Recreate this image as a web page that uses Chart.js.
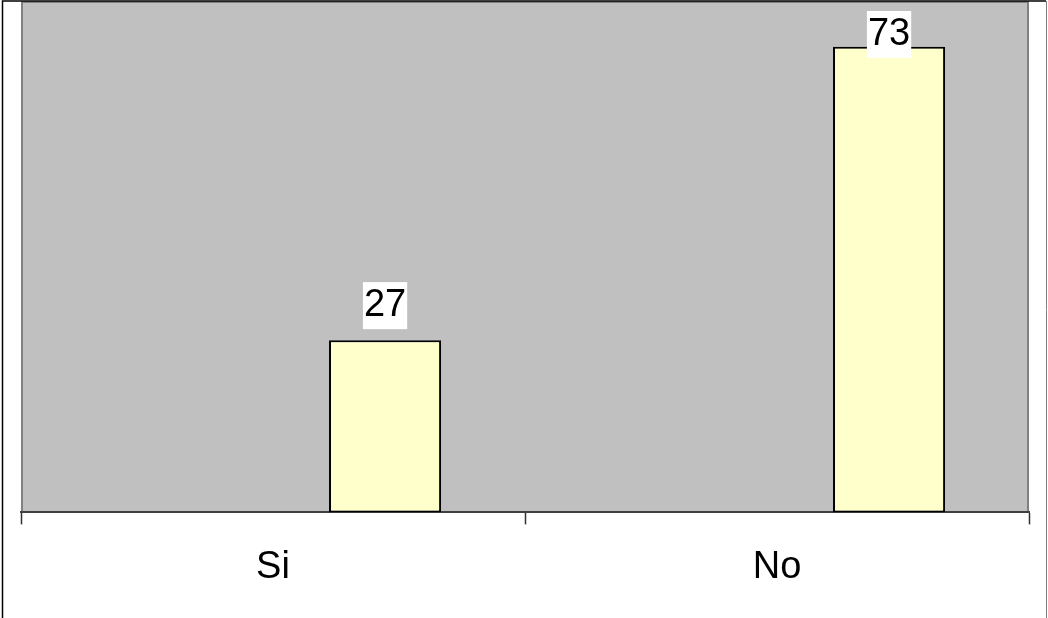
<!DOCTYPE html>
<html lang="es">
<head>
  <meta charset="utf-8">
  <title>Si / No</title>
  <script src="https://cdn.jsdelivr.net/npm/chart.js"></script>
  <style>
    html, body { margin: 0; padding: 0; background: #fff; }
    canvas { display: block; }
  </style>
</head>
<body>
  <canvas id="chart" width="1048" height="618"></canvas>

  <script>
    // Datos del gráfico
    const categories = ['Si', 'No'];
    const values = [27, 73];
    // series vacías que ocupan los huecos a la izquierda de cada barra
    const emptySeriesA = [null, null];
    const emptySeriesB = [null, null];
    const yMin = 0;
    const yMax = 80;

    const FONT = 'Arial, "Liberation Sans", sans-serif';

    // fondo gris del área, borde del área y marco exterior
    const backgroundPlugin = {
      id: 'plotBackground',
      beforeDraw(chart) {
        const { ctx, chartArea: a } = chart;
        ctx.save();
        ctx.fillStyle = '#ffffff';
        ctx.fillRect(0, 0, chart.width, chart.height);
        ctx.fillStyle = '#c0c0c0';
        ctx.fillRect(a.left, a.top, a.right - a.left, a.bottom - a.top);
        ctx.strokeStyle = '#808080';
        ctx.lineWidth = 2;
        ctx.beginPath();
        ctx.moveTo(a.left + 1, a.bottom);
        ctx.lineTo(a.left + 1, a.top);
        ctx.lineTo(a.right - 1, a.top);
        ctx.lineTo(a.right - 1, a.bottom);
        ctx.stroke();
        // marco exterior
        ctx.strokeStyle = '#000000';
        ctx.lineWidth = 1.5;
        ctx.beginPath();
        ctx.moveTo(2.5, chart.height);
        ctx.lineTo(2.5, 1);
        ctx.lineTo(1046, 1);
        ctx.stroke();
        ctx.strokeStyle = '#808080';
        ctx.lineWidth = 1;
        ctx.beginPath();
        ctx.moveTo(1046.5, 1);
        ctx.lineTo(1046.5, chart.height);
        ctx.stroke();
        ctx.restore();
      }
    };

    // etiquetas de valor con fondo blanco
    const labelPlugin = {
      id: 'valueLabels',
      afterDatasetsDraw(chart) {
        const { ctx, chartArea: a } = chart;
        const meta = chart.getDatasetMeta(2);
        ctx.save();
        ctx.font = '38px ' + FONT;
        ctx.textAlign = 'center';
        ctx.textBaseline = 'middle';
        meta.data.forEach((bar, i) => {
          const text = String(values[i]);
          const w = ctx.measureText(text).width + 2;
          const h = 47;
          let top = bar.y - 11 - h;
          if (top < a.top + 9) top = a.top + 9;
          ctx.fillStyle = '#ffffff';
          ctx.fillRect(bar.x - w / 2, top, w, h);
          ctx.fillStyle = '#000000';
          ctx.fillText(text, bar.x, top + h / 2);
        });
        ctx.restore();
      }
    };

    new Chart(document.getElementById('chart'), {
      type: 'bar',
      data: {
        labels: categories,
        datasets: [
          { data: emptySeriesA },
          { data: emptySeriesB },
          {
            data: values,
            backgroundColor: '#ffffcc',
            borderColor: '#000000',
            borderWidth: 2,
            borderSkipped: false
          }
        ]
      },
      options: {
        responsive: false,
        animation: false,
        layout: { padding: { left: 21, right: 19, top: 2, bottom: 8 } },
        datasets: {
          bar: { categoryPercentage: 0.667, barPercentage: 1 }
        },
        plugins: {
          legend: { display: false },
          tooltip: { enabled: false }
        },
        scales: {
          x: {
            grid: {
              display: true,
              drawOnChartArea: false,
              drawTicks: true,
              tickLength: 12,
              tickWidth: 1.5,
              tickColor: '#303030',
              offset: true
            },
            border: { display: true, color: '#404040', width: 2 },
            ticks: {
              color: '#000000',
              padding: 20,
              font: { family: FONT, size: 38 }
            }
          },
          y: {
            display: false,
            min: yMin,
            max: yMax
          }
        }
      },
      plugins: [backgroundPlugin, labelPlugin]
    });
  </script>
</body>
</html>
